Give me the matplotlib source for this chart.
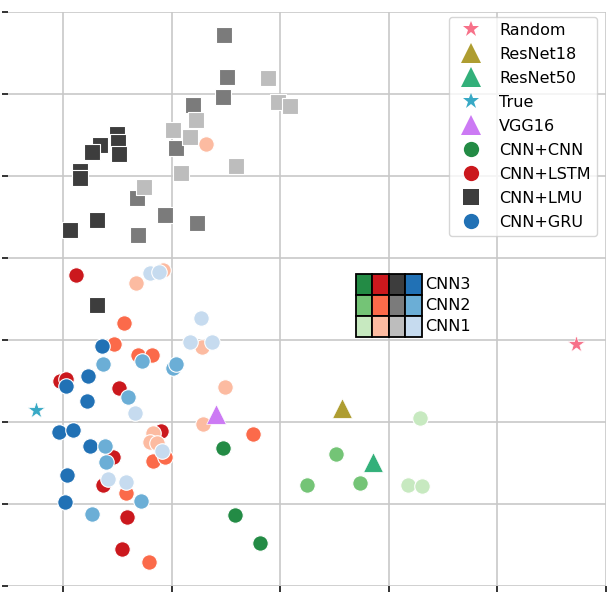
import matplotlib
matplotlib.use("Agg")
import matplotlib.pyplot as plt
from matplotlib.lines import Line2D
from matplotlib.patches import Rectangle
import seaborn as sns

# ---------------- data (arbitrary embedding units) ----------------
special_names = ["Random", "ResNet18", "ResNet50", "True", "VGG16"]
special_x = [4.72, 2.565, 2.85, -0.25, 1.41]
special_y = [2.95, 2.17, 1.51, 2.15, 2.10]
special_markers = ["*", "^", "^", "*", "^"]

# CNN+CNN (levels CNN3, CNN2, CNN1)
cnncnn3_x = [1.476, 1.587, 1.817]
cnncnn3_y = [1.68, 0.866, 0.524]
cnncnn2_x = [2.242, 2.518, 2.731]
cnncnn2_y = [1.23, 1.61, 1.26]
cnncnn1_x = [3.284, 3.173, 3.303]
cnncnn1_y = [2.05, 1.23, 1.22]

# CNN+LSTM
lstm3_x = [0.120, -0.028, 0.030, 0.517, 0.904, 0.461, 0.369, 0.590, 0.544]
lstm3_y = [3.79, 2.50, 2.52, 2.41, 1.89, 1.57, 1.23, 0.84, 0.45]
lstm2_x = [0.563, 0.470, 0.692, 0.821, 1.753, 0.830, 0.941, 0.581, 0.793]
lstm2_y = [3.21, 2.95, 2.82, 2.82, 1.85, 1.52, 1.57, 1.13, 0.29]
lstm1_x = [0.923, 0.673, 1.319, 1.282, 1.494, 1.292, 0.830, 0.803, 0.867]
lstm1_y = [3.85, 3.70, 5.39, 2.91, 2.43, 1.98, 1.87, 1.76, 1.74]

# CNN+LMU
lmu3_x = [0.498, 0.507, 0.517, 0.341, 0.268, 0.157, 0.157, 0.314, 0.065, 0.314]
lmu3_y = [5.51, 5.41, 5.27, 5.38, 5.29, 5.06, 4.98, 4.46, 4.34, 3.43]
lmu2_x = [1.485, 1.513, 1.476, 1.199, 1.042, 0.683, 0.941, 1.236, 0.692]
lmu2_y = [6.72, 6.21, 5.96, 5.87, 5.34, 4.73, 4.52, 4.43, 4.28]
lmu1_x = [1.891, 1.983, 2.094, 1.227, 1.015, 1.172, 1.596, 1.089, 0.747]
lmu1_y = [6.20, 5.90, 5.85, 5.68, 5.56, 5.48, 5.12, 5.04, 4.87]

# CNN+GRU
gru3_x = [0.360, 0.028, 0.231, 0.221, -0.037, 0.092, 0.249, 0.037, 0.018]
gru3_y = [2.93, 2.44, 2.56, 2.26, 1.88, 1.90, 1.71, 1.35, 1.02]
gru2_x = [0.369, 0.729, 1.015, 1.042, 0.600, 0.387, 0.397, 0.720, 0.268]
gru2_y = [2.71, 2.74, 2.66, 2.71, 2.30, 1.71, 1.51, 1.04, 0.88]
gru1_x = [0.803, 0.886, 1.273, 1.172, 1.375, 0.664, 0.913, 0.415, 0.581]
gru1_y = [3.82, 3.83, 3.27, 2.98, 2.98, 2.11, 1.65, 1.30, 1.27]

group_names = ["CNN+CNN", "CNN+LSTM", "CNN+LMU", "CNN+GRU"]
level_labels = ["CNN3", "CNN2", "CNN1"]

x_ticks = [0, 1, 2, 3, 4, 5]
y_ticks = [0, 1, 2, 3, 4, 5, 6, 7]

# ---------------- styles ----------------
greens = ["#238b45", "#74c476", "#c7e9c0"]
reds = ["#cb181d", "#fb6a4a", "#fcbba1"]
grays = ["#3d3d3d", "#7b7b7b", "#bdbdbd"]
blues = ["#2171b5", "#6baed6", "#c6dbef"]
special_colors = sns.color_palette("husl", 5)

plt.rcParams["font.family"] = ["DejaVu Sans"]

fig = plt.figure(figsize=(6.15, 5.99), dpi=100)
ax = fig.add_axes([8 / 615, 13 / 599, 598 / 615, 574 / 599])

groups = [
    ("o", greens, [(cnncnn3_x, cnncnn3_y), (cnncnn2_x, cnncnn2_y), (cnncnn1_x, cnncnn1_y)]),
    ("o", reds, [(lstm3_x, lstm3_y), (lstm2_x, lstm2_y), (lstm1_x, lstm1_y)]),
    ("s", grays, [(lmu3_x, lmu3_y), (lmu2_x, lmu2_y), (lmu1_x, lmu1_y)]),
    ("o", blues, [(gru3_x, gru3_y), (gru2_x, gru2_y), (gru1_x, gru1_y)]),
]
for marker, cols, levels in groups:
    for (xs, ys), c in zip(levels, cols):
        ax.scatter(xs, ys, s=125 if marker == "o" else 120, marker=marker, c=c,
                   edgecolors="white", linewidths=0.8, zorder=3)

for name, x, y, m, c in zip(special_names, special_x, special_y, special_markers, special_colors):
    ax.scatter([x], [y], marker=m, s=200 if m == "^" else 170, color=c,
               edgecolors="white", linewidths=0.5, zorder=4)

ax.set_xlim(-0.507, 5.0)
ax.set_ylim(0, 7)
ax.set_xticks(x_ticks)
ax.set_yticks(y_ticks)
ax.set_xticklabels([])
ax.set_yticklabels([])
ax.tick_params(length=4, width=1.4, color="#333333")
ax.grid(True, color="#c8c8c8", linewidth=1.2)
ax.set_axisbelow(True)
for sp in ax.spines.values():
    sp.set_visible(False)

# ---------------- legend ----------------
handles = []
for name, m, c in zip(special_names, special_markers, special_colors):
    handles.append(Line2D([], [], linestyle="none", marker=m, color=c,
                          markersize=14 if m == "^" else 12, markeredgecolor=c,
                          markeredgewidth=0, label=name))
for name, marker, cols in zip(group_names, ["o", "o", "s", "o"], [greens, reds, grays, blues]):
    handles.append(Line2D([], [], linestyle="none", marker=marker, color=cols[0],
                          markersize=11, markeredgewidth=0, label=name))
leg = ax.legend(handles=handles, loc="upper right", bbox_to_anchor=(0.985, 0.992),
                borderaxespad=0, fontsize=11.5, labelspacing=0.56, handletextpad=0.75,
                frameon=True, fancybox=True, framealpha=0.8, edgecolor="#cccccc")

# ---------------- colour table inset ----------------
px_x = 1 / 108.4
px_y = 1 / 82.0
tx0 = (355 - 63) * px_x
ty0 = (586 - 274) * px_y
cw = 16.5 * px_x
ch = 21 * px_y
for r in range(3):
    for ci, cols in enumerate([greens, reds, grays, blues]):
        ax.add_patch(Rectangle((tx0 + ci * cw, ty0 - (r + 1) * ch), cw, ch,
                               facecolor=cols[r], edgecolor="black", linewidth=1.3, zorder=6))
    ax.text(tx0 + 4 * cw + 3 * px_x, ty0 - (r + 0.5) * ch, level_labels[r],
            fontsize=11.5, va="center", ha="left", zorder=6)

fig.savefig("out.png", dpi=100)
